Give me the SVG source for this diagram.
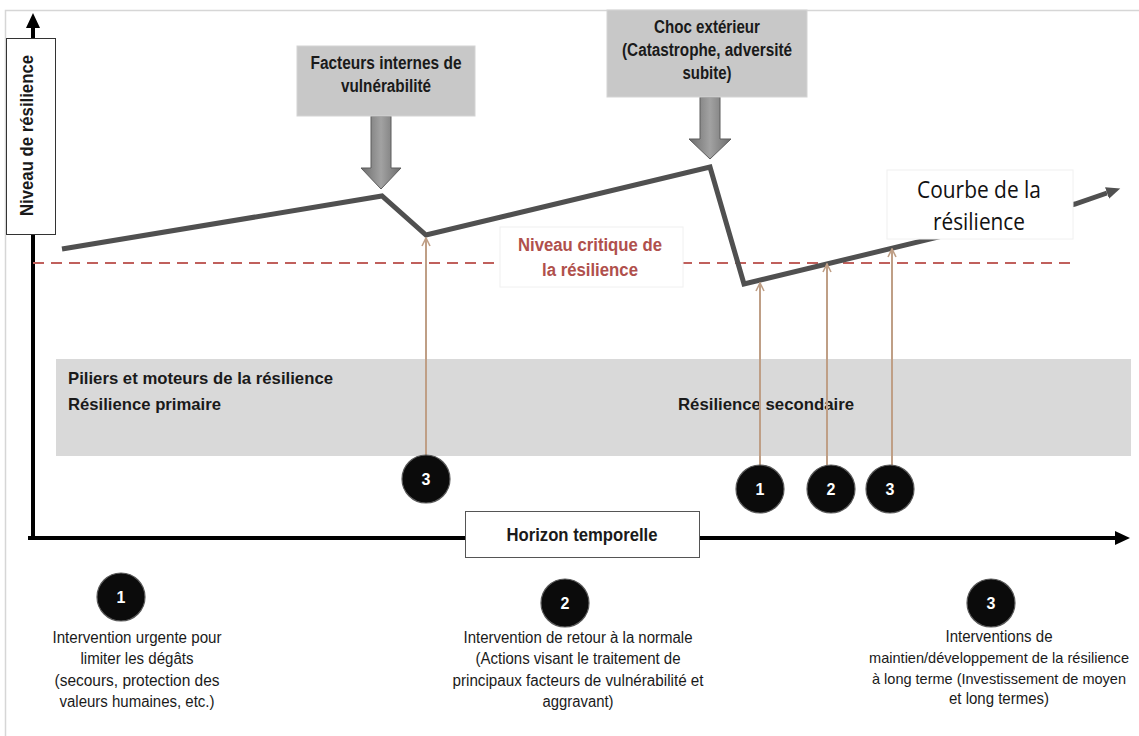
<svg xmlns="http://www.w3.org/2000/svg" width="1139" height="736" viewBox="0 0 1139 736">
<style>
.nb{font-family:"Liberation Sans Narrow","Liberation Sans",Arial,sans-serif;font-weight:bold;fill:#1a1a1a}
.nr{font-family:"Liberation Sans Narrow","Liberation Sans",Arial,sans-serif;font-weight:normal;fill:#1a1a1a}
.mid{text-anchor:middle}
.gbox{fill:#c8c8c8;stroke:#d4d4d4;stroke-width:1}
.wbox{fill:#ffffff;stroke:#f0f0f0;stroke-width:1}
.num{fill:#0b0b0b;stroke:#5a5a5a;stroke-width:1.2}
.numt{font-family:"Liberation Sans Narrow","Liberation Sans",Arial,sans-serif;font-weight:bold;font-size:16px;fill:#ffffff;text-anchor:middle}
.brown{stroke:#bf9f86;stroke-width:2;fill:none}
.blk{fill:url(#barrow);stroke:#5c5c5c;stroke-width:1}
</style>
<defs>
<linearGradient id="barrow" x1="0" y1="0" x2="1" y2="0">
<stop offset="0" stop-color="#6c6c6c"/>
<stop offset="0.5" stop-color="#a2a2a2"/>
<stop offset="1" stop-color="#6c6c6c"/>
</linearGradient>
<marker id="axisHead" markerUnits="userSpaceOnUse" markerWidth="16" markerHeight="16" refX="2" refY="7" orient="auto">
<path d="M0,0 L15,7 L0,14 Z" fill="#000"/>
</marker>
<marker id="curveHead" markerUnits="userSpaceOnUse" markerWidth="16" markerHeight="14" refX="0" refY="6" orient="auto">
<path d="M0,0 L14,6 L0,12 Z" fill="#505050"/>
</marker>
<marker id="brownHead" markerUnits="userSpaceOnUse" markerWidth="10" markerHeight="10" refX="9" refY="5" orient="auto">
<path d="M1,1 L9,5 L1,9" fill="none" stroke="#bf9f86" stroke-width="1.6"/>
</marker>
</defs>
<rect x="0" y="0" width="1139" height="736" fill="#ffffff"/>
<rect x="5.5" y="10.5" width="1200" height="800" fill="none" stroke="#d6d6d6" stroke-width="1.5"/>

<g id="band">
<rect x="56" y="359" width="1075" height="97" fill="#d9d9d9"/>
<text class="nb" x="68" y="384" font-size="16.5" textLength="265" lengthAdjust="spacingAndGlyphs">Piliers et moteurs de la résilience</text>
<text class="nb" x="68" y="410" font-size="16.5" textLength="153" lengthAdjust="spacingAndGlyphs">Résilience primaire</text>
<text class="nb" x="678" y="410" font-size="16.5" textLength="176" lengthAdjust="spacingAndGlyphs">Résilience secondaire</text>
</g>

<g id="connectors">
<line x1="33" y1="540" x2="33" y2="26" stroke="#000" stroke-width="4" marker-end="url(#axisHead)"/>
<line x1="28" y1="538" x2="1117" y2="538" stroke="#000" stroke-width="4" marker-end="url(#axisHead)"/>
<line x1="33" y1="263" x2="1075" y2="263" stroke="#c0605c" stroke-width="2" stroke-dasharray="11,7"/>
<polyline points="62,249 382,196 426,235 710,167 744,284 1075,204 1107,193" fill="none" stroke="#505050" stroke-width="5" stroke-linejoin="miter" marker-end="url(#curveHead)"/>
<line class="brown" x1="426" y1="458" x2="426" y2="238" marker-end="url(#brownHead)"/>
<line class="brown" x1="760" y1="468" x2="760" y2="283" marker-end="url(#brownHead)"/>
<line class="brown" x1="827" y1="468" x2="827" y2="264" marker-end="url(#brownHead)"/>
<line class="brown" x1="892" y1="468" x2="892" y2="249" marker-end="url(#brownHead)"/>
<path class="blk" d="M371,116 L391,116 L391,168 L401,168 L381,189 L361,168 L371,168 Z"/>
<path class="blk" d="M700,97 L720,97 L720,139 L731,139 L710,159 L689,139 L700,139 Z"/>
</g>

<g id="ylabel">
<rect x="6.5" y="38.5" width="49" height="196" fill="#ffffff" stroke="#333" stroke-width="1"/>
<text class="nb mid" transform="translate(33,135.5) rotate(-90)" font-size="18" textLength="161" lengthAdjust="spacingAndGlyphs" style="font-family:'Liberation Sans',Arial,sans-serif">Niveau de résilience</text>
</g>

<g id="horizon">
<rect x="465.5" y="511.5" width="234" height="46" fill="#ffffff" stroke="#555" stroke-width="1"/>
<text class="nb mid" x="582" y="541" font-size="17.5" textLength="151" lengthAdjust="spacingAndGlyphs">Horizon temporelle</text>
</g>

<g id="critique">
<rect class="wbox" x="500" y="227" width="183" height="60"/>
<text class="nb mid" x="590" y="251" font-size="17.5" textLength="144" lengthAdjust="spacingAndGlyphs" style="fill:#b0504c">Niveau critique de</text>
<text class="nb mid" x="590" y="276" font-size="17.5" textLength="96" lengthAdjust="spacingAndGlyphs" style="fill:#b0504c">la résilience</text>
</g>

<g id="courbe">
<rect class="wbox" x="887" y="170" width="186" height="69"/>
<text class="mid" x="979" y="198" font-size="23" textLength="124" lengthAdjust="spacingAndGlyphs" style="font-family:'Open Sans','Liberation Sans',sans-serif;fill:#111">Courbe de la</text>
<text class="mid" x="979" y="230" font-size="23" textLength="92" lengthAdjust="spacingAndGlyphs" style="font-family:'Open Sans','Liberation Sans',sans-serif;fill:#111">résilience</text>
</g>

<g id="facteurs">
<rect class="gbox" x="297" y="46" width="178" height="70"/>
<text class="nb mid" x="386" y="69" font-size="17.5" textLength="151" lengthAdjust="spacingAndGlyphs">Facteurs internes de</text>
<text class="nb mid" x="386" y="92" font-size="17.5" textLength="90" lengthAdjust="spacingAndGlyphs">vulnérabilité</text>
</g>

<g id="choc">
<rect class="gbox" x="607" y="10" width="200" height="87"/>
<text class="nb mid" x="707" y="33" font-size="17.5" textLength="106" lengthAdjust="spacingAndGlyphs">Choc extérieur</text>
<text class="nb mid" x="707" y="56" font-size="17.5" textLength="170" lengthAdjust="spacingAndGlyphs">(Catastrophe, adversité</text>
<text class="nb mid" x="707" y="79" font-size="17.5" textLength="49" lengthAdjust="spacingAndGlyphs">subite)</text>
</g>

<g id="c3a"><circle class="num" cx="426" cy="479" r="24"/><text class="numt" x="426" y="485">3</text></g>
<g id="c1b"><circle class="num" cx="760" cy="489" r="24"/><text class="numt" x="760" y="495">1</text></g>
<g id="c2b"><circle class="num" cx="831" cy="489" r="24"/><text class="numt" x="831" y="495">2</text></g>
<g id="c3b"><circle class="num" cx="890" cy="489" r="24"/><text class="numt" x="890" y="495">3</text></g>

<g id="legend1">
<circle class="num" cx="121" cy="597" r="24"/><text class="numt" x="121" y="603">1</text>
<text class="nr mid" x="137" y="643" font-size="16" textLength="169" lengthAdjust="spacingAndGlyphs">Intervention urgente pour</text>
<text class="nr mid" x="137" y="664" font-size="16" textLength="113" lengthAdjust="spacingAndGlyphs">limiter les dégâts</text>
<text class="nr mid" x="137" y="686" font-size="16" textLength="165" lengthAdjust="spacingAndGlyphs">(secours,  protection des</text>
<text class="nr mid" x="137" y="707" font-size="16" textLength="155" lengthAdjust="spacingAndGlyphs">valeurs humaines, etc.)</text>
</g>

<g id="legend2">
<circle class="num" cx="565" cy="603" r="24"/><text class="numt" x="565" y="609">2</text>
<text class="nr mid" x="578" y="643" font-size="16" textLength="229" lengthAdjust="spacingAndGlyphs">Intervention de retour à la normale</text>
<text class="nr mid" x="578" y="664" font-size="16" textLength="205" lengthAdjust="spacingAndGlyphs">(Actions visant le traitement de</text>
<text class="nr mid" x="578" y="686" font-size="16" textLength="251" lengthAdjust="spacingAndGlyphs">principaux facteurs de vulnérabilité et</text>
<text class="nr mid" x="578" y="707" font-size="16" textLength="71" lengthAdjust="spacingAndGlyphs">aggravant)</text>
</g>

<g id="legend3">
<circle class="num" cx="991" cy="603" r="24"/><text class="numt" x="991" y="609">3</text>
<text class="nr mid" x="999" y="642" font-size="16" textLength="107" lengthAdjust="spacingAndGlyphs">Interventions de</text>
<text class="nr mid" x="999" y="663" font-size="14.5" textLength="260" lengthAdjust="spacingAndGlyphs">maintien/développement de la résilience</text>
<text class="nr mid" x="999" y="684" font-size="14.5" textLength="254" lengthAdjust="spacingAndGlyphs">à long terme (Investissement de moyen</text>
<text class="nr mid" x="999" y="704" font-size="16" textLength="100" lengthAdjust="spacingAndGlyphs">et long termes)</text>
</g>
</svg>
